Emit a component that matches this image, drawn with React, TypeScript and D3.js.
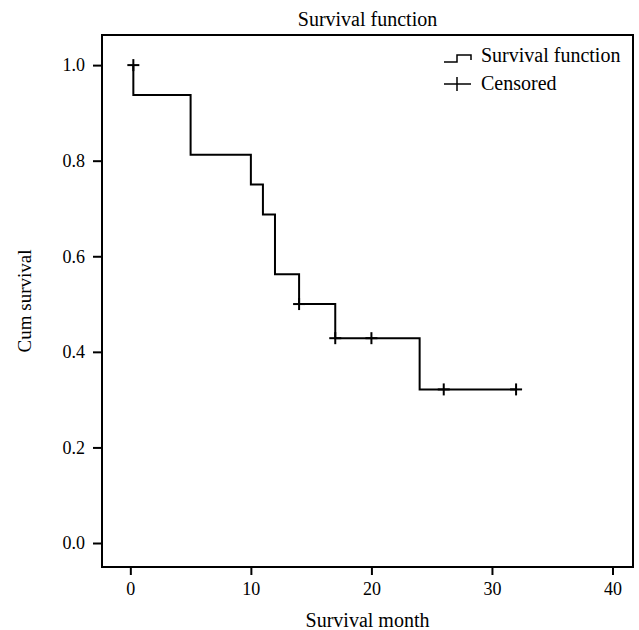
import React, {useRef, useEffect} from 'react'
import * as d3 from "d3";

// Kaplan-Meier steps
const stepTimes = [0.25, 5, 10, 11, 12, 14, 17, 24, 32];
const stepSurvival = [0.9375, 0.8125, 0.75, 0.6875, 0.5625, 0.5, 0.4286, 0.3214, 0.3214];
const censorTimes = [0.25, 14, 17, 20, 26, 32];
const censorSurvival = [1.0, 0.5, 0.4286, 0.4286, 0.3214, 0.3214];
const xTicks = [0, 10, 20, 30, 40];
const yTicks = [0.0, 0.2, 0.4, 0.6, 0.8, 1.0];
const legendLabels = ["Survival function", "Censored"];

const App = () => {
  const svgRef = useRef<SVGSVGElement>(null);

  useEffect(() => {
    const width = 639;
    const height = 630;
    const left = 102, right = 633, top = 35, bottom = 567;
    const font = "'Liberation Serif', 'DejaVu Serif', serif";

    const x = d3.scaleLinear().domain([-2.35, 41.7]).range([left, right]);
    const y = d3.scaleLinear().domain([-0.0502, 1.063]).range([bottom, top]);

    const svg = d3.select(svgRef.current)
      .attr("viewBox", [0, 0, width, height])
      .attr("width", width)
      .attr("height", height)
      .style("display", "block")
      .style("background", "#fff");
    svg.selectAll("*").remove();

    // frame
    svg.append("rect")
      .attr("x", left).attr("y", top)
      .attr("width", right - left).attr("height", bottom - top)
      .attr("fill", "none").attr("stroke", "#000").attr("stroke-width", 2);

    // axes
    const xAxis = svg.append("g")
      .attr("transform", `translate(0,${bottom})`)
      .call(d3.axisBottom(x).tickValues(xTicks).tickSize(8).tickPadding(7).tickFormat(d3.format("d")));
    xAxis.select(".domain").remove();

    const yAxis = svg.append("g")
      .attr("transform", `translate(${left},0)`)
      .call(d3.axisLeft(y).tickValues(yTicks).tickSize(9).tickPadding(8).tickFormat(d3.format(".1f")));
    yAxis.select(".domain").remove();

    svg.selectAll(".tick line").attr("stroke", "#000").attr("stroke-width", 2);
    svg.selectAll(".tick text")
      .attr("fill", "#000")
      .style("font-family", font)
      .style("font-size", "18px");

    // step curve, starting at 1.0 before the first drop
    const pts: [number, number][] = [[stepTimes[0], 1.0], ...stepTimes.map((t, i) => [t, stepSurvival[i]] as [number, number])];
    const line = d3.line<[number, number]>()
      .x(d => x(d[0])).y(d => y(d[1]))
      .curve(d3.curveStepAfter);
    svg.append("path")
      .attr("d", line(pts))
      .attr("fill", "none").attr("stroke", "#000").attr("stroke-width", 2);

    // censor marks
    const cs = 6;
    const cg = svg.append("g");
    censorTimes.forEach((t, i) => {
      const cx = x(t), cy = y(censorSurvival[i]);
      cg.append("line").attr("x1", cx - cs).attr("x2", cx + cs).attr("y1", cy).attr("y2", cy)
        .attr("stroke", "#000").attr("stroke-width", 2);
      cg.append("line").attr("x1", cx).attr("x2", cx).attr("y1", cy - cs).attr("y2", cy + cs)
        .attr("stroke", "#000").attr("stroke-width", 2);
    });

    // legend
    const lg = svg.append("g");
    lg.append("path")
      .attr("d", "M444,62 H457 V55 H471 V60")
      .attr("fill", "none").attr("stroke", "#000").attr("stroke-width", 1.5);
    lg.append("line").attr("x1", 444).attr("x2", 471).attr("y1", 84).attr("y2", 84)
      .attr("stroke", "#000").attr("stroke-width", 1.5);
    lg.append("line").attr("x1", 457).attr("x2", 457).attr("y1", 77).attr("y2", 91)
      .attr("stroke", "#000").attr("stroke-width", 1.5);
    legendLabels.forEach((lab, i) => {
      lg.append("text").attr("x", 481).attr("y", 62 + i * 28)
        .text(lab)
        .style("font-family", font).style("font-size", "20px");
    });

    // titles
    svg.append("text").attr("x", (left + right) / 2).attr("y", 26)
      .attr("text-anchor", "middle").text("Survival function")
      .style("font-family", font).style("font-size", "20px");
    svg.append("text").attr("x", (left + right) / 2).attr("y", 627)
      .attr("text-anchor", "middle").text("Survival month")
      .style("font-family", font).style("font-size", "20px");
    svg.append("text")
      .attr("transform", `translate(31,${(top + bottom) / 2}) rotate(-90)`)
      .attr("text-anchor", "middle").text("Cum survival")
      .style("font-family", font).style("font-size", "19px");
  }, []);

  return (
    <svg ref={svgRef} style={{position: "absolute", left: 0, top: 0}}/>
  );
}

export default App;
